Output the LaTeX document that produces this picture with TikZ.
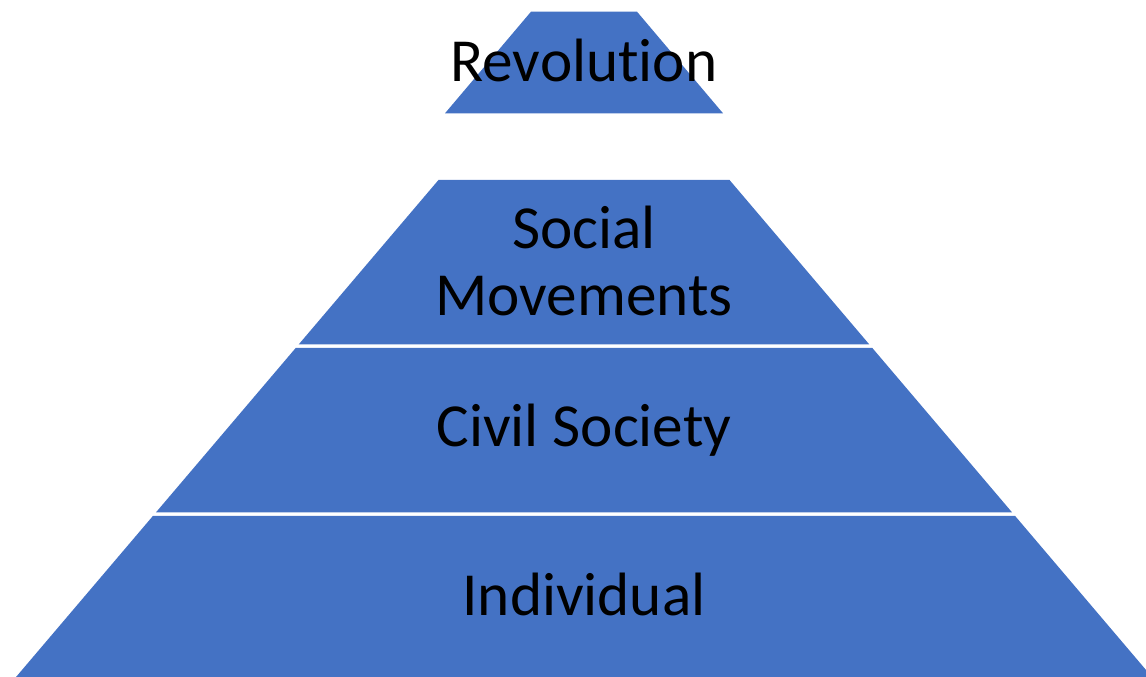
\documentclass[tikz,border=0pt]{standalone}
\usepackage{fontspec}
\setmainfont[Ligatures=NoCommon]{Carlito}
\usetikzlibrary{positioning}
\definecolor{level blue}{HTML}{4472C4}

\begin{document}
\begin{tikzpicture}[x=0.01cm,y=-0.01cm,
    level/.style={fill=level blue},
    level text/.style={text=black,align=center,inner sep=0pt,
      font=\fontsize{17.4}{19.2}\selectfont}]
        \def\cx{584}
        \def\sl{0.85}
        \useasboundingbox (0,0) rectangle (1146,677);
        \clip (0,0) rectangle (1146,677);

        % top piece
        \fill[level] (\cx-53,11.7) -- (\cx+53,11.7) -- (\cx+139,113.3) -- (\cx-139,113.3) -- cycle;
        % pyramid levels: {top y}{bottom y}
        \foreach \yt/\yb in {180/344.5, 348/512.5, 516/677}{
          \pgfmathsetmacro{\wt}{(\yt-8.8)*\sl}
          \pgfmathsetmacro{\wb}{(\yb-8.8)*\sl}
          \fill[level] (\cx-\wt,\yt) -- (\cx+\wt,\yt) -- (\cx+\wb,\yb) -- (\cx-\wb,\yb) -- cycle;
        }

        \node[level text] (revolution) at (\cx,60.5) {Revolution};
        \node[level text] (movements) at (\cx,261) {Social\\Movements};
        \node[level text] (society) at (\cx,430.5) {Civil Society};
        \node[level text] (individual) at (\cx,594.5) {Individual};
\end{tikzpicture}
\end{document}
